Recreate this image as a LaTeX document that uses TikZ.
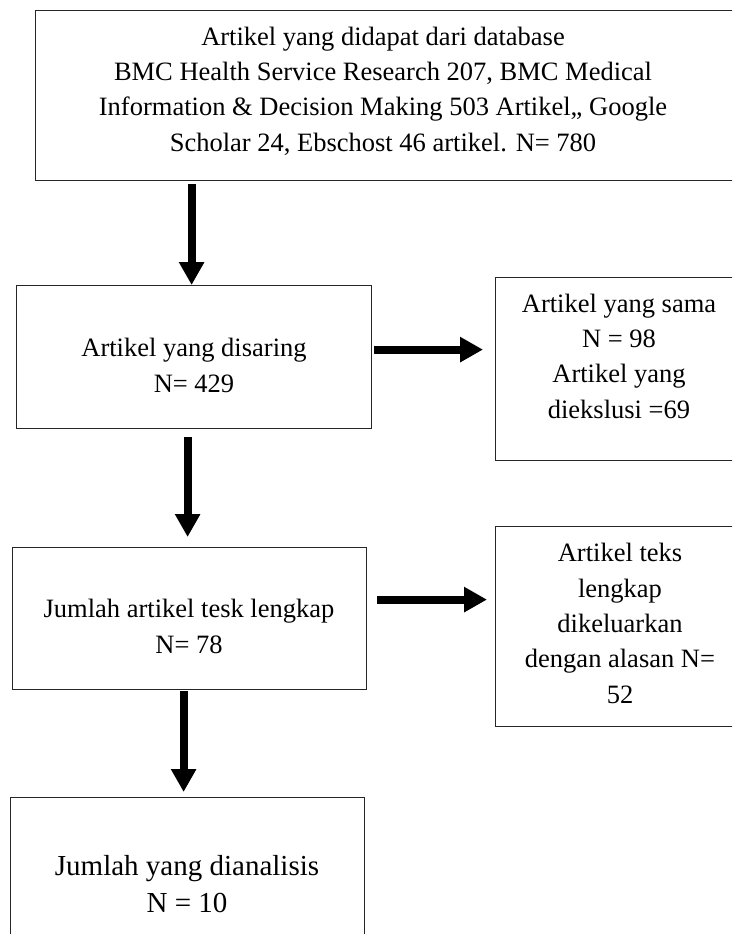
\documentclass[tikz,border=0pt]{standalone}
\usepackage{fontspec}
\setmainfont{Liberation Serif}
\usetikzlibrary{arrows.meta,calc}
\begin{document}
\begin{tikzpicture}[x=1pt,y=-1pt,
  box/.style={draw=black!85, line width=1.2pt, inner sep=0pt, anchor=north west},
  txt/.style={align=center, anchor=base, inner sep=0pt, font=\fontsize{26.5}{35.3}\selectfont},
  bigtxt/.style={txt, font=\fontsize{29}{37}\selectfont},
  flow/.style={line width=8pt, -{Triangle[width=24pt,length=23pt]}}]
\useasboundingbox (0,0) rectangle (732,934);
\clip (0,0) rectangle (732,934);
% boxes
\node[box, minimum width=710pt, minimum height=170pt] (b1) at (35,10) {};
\node[box, minimum width=355pt, minimum height=143pt] (b2) at (16,285) {};
\node[box, minimum width=250pt, minimum height=183pt] (r1) at (495,277) {};
\node[box, minimum width=354pt, minimum height=142pt] (b3) at (12,547) {};
\node[box, minimum width=250pt, minimum height=200pt] (r2) at (495,526) {};
\node[box, minimum width=354pt, minimum height=160pt] (b4) at (10,797) {};
% texts (anchored at the baseline of their last line)
\node[txt] (t1) at (383,151) {Artikel yang didapat dari database\\BMC Health Service Research 207, BMC Medical\\Information \& Decision Making 503 Artikel,, Google\\Scholar 24, Ebschost 46 artikel. N= 780};
\node[txt] (t2) at (194,392) {Artikel yang disaring\\N= 429};
\node[txt] (t3) at (619,418) {Artikel yang sama\\N = 98\\Artikel yang\\diekslusi =69};
\node[txt] (t4) at (189,653) {Jumlah artikel tesk lengkap\\N= 78};
\node[txt] (t5) at (620,703) {Artikel teks\\lengkap\\dikeluarkan\\dengan alasan N=\\52};
\node[bigtxt] (t6) at (187,912) {Jumlah yang dianalisis\\N = 10};
% connectors
\draw[flow] ($(b1.south -| b2.north)+(-2.5,3)$) -- ([xshift=-2.5pt]b2.north);
\draw[flow] ($(b2.east)+(2,-7.5)$) -- ($(r1.west |- b2.east)+(-12,-7.5)$);
\draw[flow] ($(b2.south)+(-6.5,8)$) -- ($(b3.north)+(-2,-10)$);
\draw[flow] ($(b3.east)+(10,-19)$) -- ($(b3.east -| r2.west)+(-8,-19)$);
\draw[flow] ($(b3.south)+(-6,1)$) -- ($(b4.north)+(-4,-5)$);
\end{tikzpicture}
\end{document}
